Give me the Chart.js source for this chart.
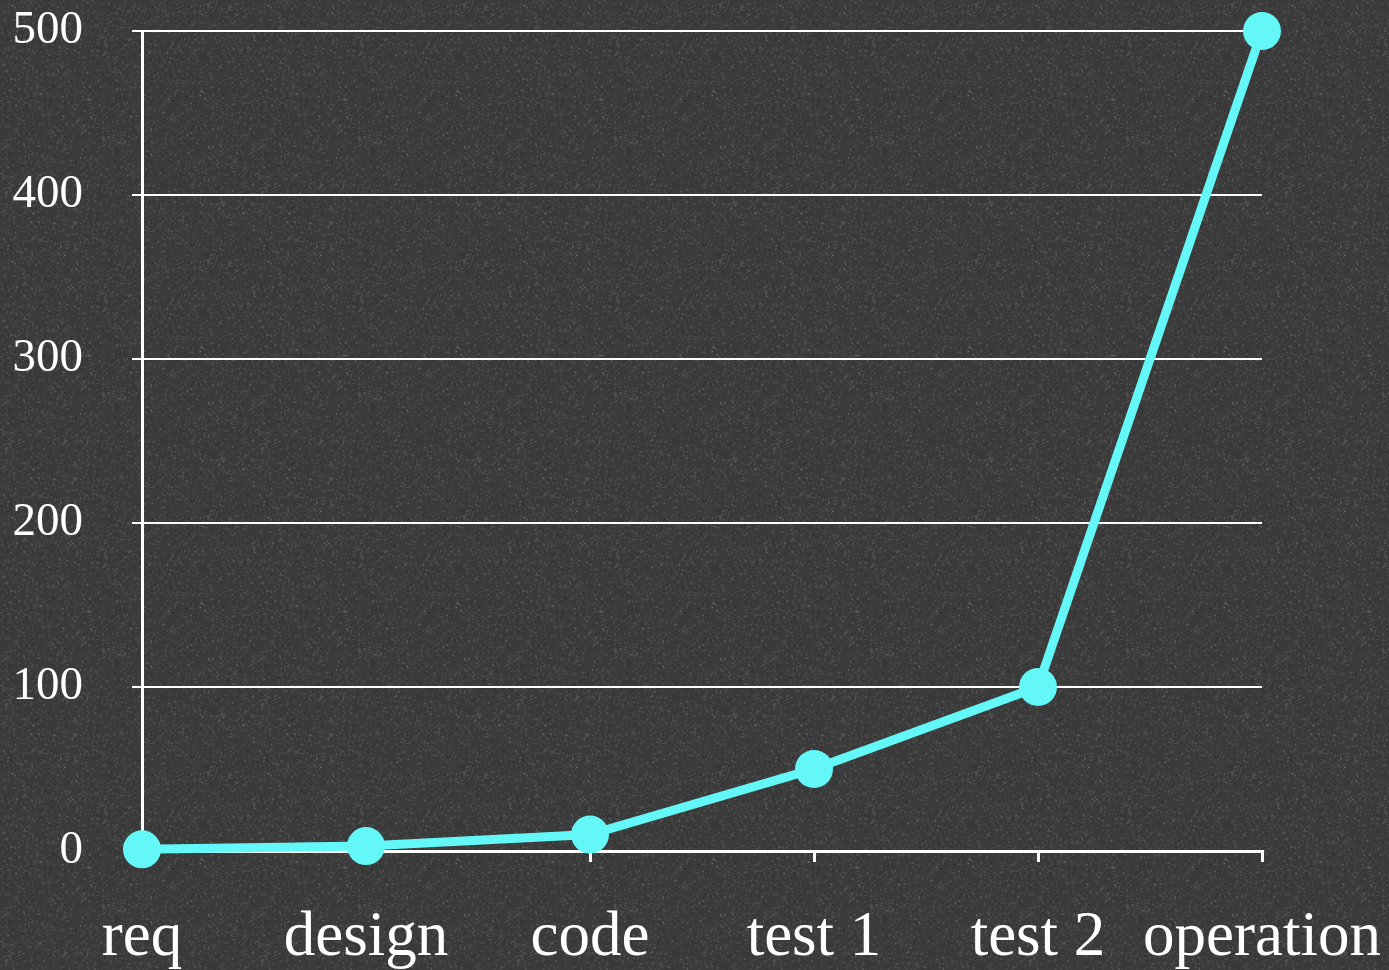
<!DOCTYPE html>
<html>
<head>
<meta charset="utf-8">
<title>Cost by phase</title>
<script src="https://cdn.jsdelivr.net/npm/chart.js@4/dist/chart.umd.min.js"></script>
<style>
  html, body { margin: 0; padding: 0; background: #3b3b3b; }
  #wrap { width: 1389px; height: 970px; }
</style>
</head>
<body>
<div id="wrap"><canvas id="chart" width="1389" height="970"></canvas></div>
<script>
  /* ── Data ──────────────────────────────────────────────── */
  const phases = ['req', 'design', 'code', 'test 1', 'test 2', 'operation'];
  const cost   = [1, 3, 10, 50, 100, 500];
  const yTicks = [0, 100, 200, 300, 400, 500];

  const CYAN  = '#63f7f7';
  const WHITE = '#ffffff';
  const SERIF = "'Liberation Serif', 'DejaVu Serif', serif";

  /* slate backdrop with a fine chalky grain (deterministic speckle) */
  function makeGrain() {
    const c = document.createElement('canvas');
    c.width = 256; c.height = 256;
    const g = c.getContext('2d');
    g.fillStyle = '#3b3b3b';
    g.fillRect(0, 0, 256, 256);
    let s = 12345;
    const next = () => (s = (s * 1103515245 + 12345) & 0x7fffffff) / 0x7fffffff;
    for (let i = 0; i < 9000; i++) {
      const x = next() * 256, y = next() * 256;
      const v = next();
      g.fillStyle = v > 0.5 ? 'rgba(255,255,255,' + (0.04 + v * 0.08).toFixed(3) + ')'
                            : 'rgba(0,0,0,' + (0.05 + v * 0.1).toFixed(3) + ')';
      g.fillRect(x, y, 1.5, 1.5);
    }
    return c;
  }

  const backdrop = {
    id: 'backdrop',
    beforeDraw(chart) {
      const ctx = chart.ctx;
      ctx.save();
      ctx.fillStyle = ctx.createPattern(makeGrain(), 'repeat');
      ctx.fillRect(0, 0, chart.width, chart.height);
      ctx.restore();
    }
  };

  new Chart(document.getElementById('chart'), {
    type: 'line',
    data: {
      labels: phases,
      datasets: [{
        data: cost,
        borderColor: CYAN,
        backgroundColor: CYAN,
        borderWidth: 9,
        pointRadius: 19,
        pointHoverRadius: 19,
        pointBorderWidth: 0,
        tension: 0,
        fill: false,
        clip: false,
      }],
    },
    options: {
      responsive: false,
      animation: false,
      layout: { padding: { top: 31, right: 127, left: 0, bottom: 0 } },
      plugins: { legend: { display: false }, tooltip: { enabled: false } },
      scales: {
        x: {
          offset: false,
          grid: { drawOnChartArea: false, color: WHITE, lineWidth: 3, tickLength: 11 },
          border: { color: WHITE, width: 3 },
          ticks: {
            color: WHITE, font: { family: SERIF, size: 63 }, padding: 39,
            maxRotation: 0, autoSkip: false,
          },
          afterFit(s) { s.height = 119; s.paddingLeft = 0; s.paddingRight = 0; },
        },
        y: {
          min: 0, max: 500,
          afterBuildTicks(s) { s.ticks = yTicks.map(v => ({ value: v })); },
          grid: { color: WHITE, lineWidth: 2, tickLength: 10 },
          border: { color: WHITE, width: 3 },
          ticks: { color: WHITE, font: { family: SERIF, size: 47 }, padding: 49 },
          afterFit(s) { s.width = 142; s.paddingTop = 0; s.paddingBottom = 0; },
        },
      },
    },
    plugins: [backdrop],
  });
</script>
</body>
</html>
